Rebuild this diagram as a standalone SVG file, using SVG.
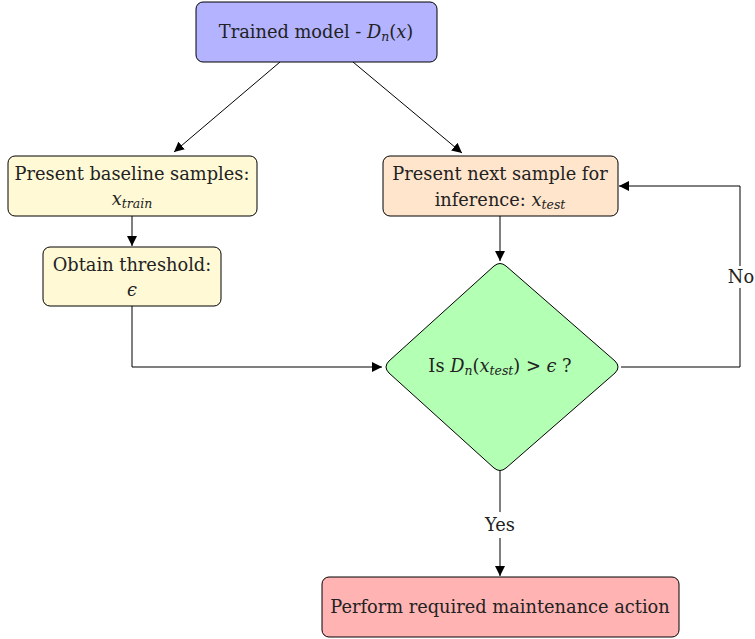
<svg xmlns="http://www.w3.org/2000/svg" width="755" height="639" viewBox="0 0 755 639">
<style>
  .box { stroke: #000; stroke-width: 1; }
  .t { font-family: "DejaVu Serif", "Liberation Serif", "Noto Serif", serif; font-size: 17.8px; fill: #222; text-anchor: middle; }
  .i { font-style: italic; }
  .s { font-size: 12.5px; font-style: italic; }
  .edge { fill: none; stroke: #000; stroke-width: 1; }
  .lbl { font-family: "DejaVu Serif", "Liberation Serif", "Noto Serif", serif; font-size: 17.8px; fill: #222; text-anchor: middle; }
</style>
<defs>
  <marker id="arr" viewBox="0 0 10 10" refX="10" refY="5" markerWidth="10" markerHeight="10" markerUnits="userSpaceOnUse" orient="auto">
    <path d="M0,0 L10,5 L0,10 Z" fill="#000"/>
  </marker>
</defs>
<rect width="755" height="639" fill="#fff"/>
<g id="connectors">
  <line class="edge" x1="280" y1="62" x2="174" y2="152" marker-end="url(#arr)"/>
  <line class="edge" x1="353" y1="62" x2="462" y2="153" marker-end="url(#arr)"/>
  <line class="edge" x1="132" y1="216" x2="132" y2="246" marker-end="url(#arr)"/>
  <polyline class="edge" points="132,306 132,367 382,367" marker-end="url(#arr)"/>
  <line class="edge" x1="500" y1="216" x2="500" y2="261" marker-end="url(#arr)"/>
  <polyline class="edge" points="621,367 740,367 740,186 619,186" marker-end="url(#arr)"/>
  <rect x="726" y="266" width="29" height="22" fill="#fff"/>
  <text class="lbl" x="741" y="283">No</text>
  <line class="edge" x1="500" y1="471" x2="500" y2="576" marker-end="url(#arr)"/>
  <rect x="481" y="512" width="38" height="26" fill="#fff"/>
  <text class="lbl" x="500" y="531">Yes</text>
</g>
<g id="trained">
  <rect class="box" x="196" y="2" width="241" height="60" rx="7" fill="#b3b3ff"/>
  <text class="t" x="316" y="38">Trained model - <tspan class="i">D</tspan><tspan class="s" dy="3">n</tspan><tspan dy="-3">(</tspan><tspan class="i">x</tspan>)</text>
</g>
<g id="baseline">
  <rect class="box" x="8" y="156" width="249" height="60" rx="7" fill="#fff9d6"/>
  <text class="t" x="132" y="180">Present baseline samples:</text>
  <text class="t" x="132" y="205"><tspan class="i">x</tspan><tspan class="s" dy="3">train</tspan></text>
</g>
<g id="threshold">
  <rect class="box" x="43" y="247" width="178" height="59" rx="7" fill="#fff9d6"/>
  <text class="t" x="132" y="271">Obtain threshold:</text>
  <text class="t i" x="132" y="296">ϵ</text>
</g>
<g id="next">
  <rect class="box" x="383" y="156" width="235" height="60" rx="7" fill="#ffe5cc"/>
  <text class="t" x="500" y="180">Present next sample for</text>
  <text class="t" x="500" y="206">inference: <tspan class="i">x</tspan><tspan class="s" dy="3">test</tspan></text>
</g>
<g id="decision">
  <path class="box" fill="#b3ffb3" d="M494,266 Q500,261 506,266 L615,361 Q621,367 615,373 L506,468 Q500,473 494,468 L389,373 Q383,367 389,361 Z"/>
  <text class="t" x="500" y="372">Is <tspan class="i">D</tspan><tspan class="s" dy="3">n</tspan><tspan dy="-3">(</tspan><tspan class="i">x</tspan><tspan class="s" dy="3">test</tspan><tspan dy="-3">) &gt; </tspan><tspan class="i">ϵ</tspan> ?</text>
</g>
<g id="maintenance">
  <rect class="box" x="322" y="577" width="357" height="60" rx="7" fill="#ffb3b3"/>
  <text class="t" x="500" y="613">Perform required maintenance action</text>
</g>
</svg>
